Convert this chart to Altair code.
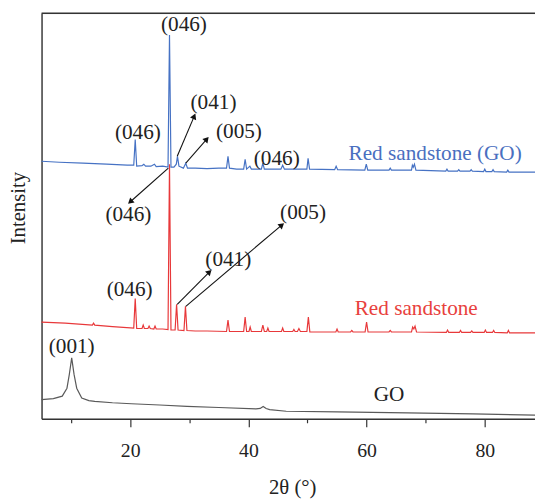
import math
import altair as alt
import pandas as pd

# ---------------- data ----------------
go_x = [5, 7, 8.5, 9.3, 9.7, 10.1, 10.5, 10.95, 11.8, 13, 14, 17, 20.2, 25, 29.6, 35, 41.3, 42.0, 42.5, 43.0, 43.6, 46.4, 55, 66.9, 78, 88.5]
go_y = [19.5, 20.5, 23, 31, 45, 61.7, 45, 31, 21, 18.5, 17.7, 16.3, 15.3, 14, 12.7, 11.5, 10, 10.5, 12.5, 10.5, 9.3, 7.7, 7, 6, 5, 3.7]

red_x = [5, 9, 13.6, 13.8, 14.0, 17, 20.6, 20.85, 21.1, 22.0, 22.2, 22.4, 23.0, 23.2, 23.4, 24.0, 24.2, 24.4, 25.5, 26.4, 26.65, 26.9,
         27.6, 27.85, 28.1, 29.1, 29.35, 29.6, 31, 33, 36.3, 36.55, 36.8, 39.2, 39.45, 39.7, 40.1, 40.3, 40.5, 42.2, 42.45, 42.7,
         43.1, 43.3, 43.5, 45.6, 45.8, 46.0, 47.5, 47.7, 47.9, 48.3, 48.55, 48.8, 49.9, 50.15, 50.4, 54.8, 55.0, 55.2, 57.3, 57.5,
         57.7, 59.75, 60.0, 60.25, 63.8, 64.0, 64.2, 67.6, 67.8, 68.0, 68.2, 68.45, 73.5, 73.7, 73.9, 75.7, 75.9, 76.1, 77.6, 77.8,
         78.0, 79.9, 80.1, 80.3, 81.3, 81.5, 81.7, 83.8, 84.0, 84.2, 88.5]
red_y = [98, 97, 95, 97, 95, 93.5, 92, 122, 91.5, 91.5, 95, 91.5, 91.5, 94, 91.5, 91, 94, 91, 91, 90.5, 258, 90,
         90, 116, 90, 89.5, 114, 89.5, 89, 89, 88.5, 100, 88.5, 88.5, 103, 88.5, 88.5, 93, 88.5, 88.5, 95, 88.5,
         88.5, 92, 88.5, 88.5, 92, 88.5, 88.5, 90.5, 88.5, 88.5, 91.5, 88.5, 88.5, 103, 88, 88, 91, 88, 88, 89.5,
         88, 88, 98, 88, 88, 89.5, 88, 88, 93, 91, 94, 88, 87.5, 90, 87.5, 87.5, 89.5, 87.5, 87.5, 89,
         87.5, 87.5, 90, 87.5, 87.5, 89.5, 87.5, 87, 89.5, 87, 87]

blue_x = [5, 8, 12, 16, 19.5, 20.6, 20.85, 21.1, 22, 22.3, 22.6, 23.5, 24.1, 24.4, 25.5, 26.4, 26.65, 26.9, 27.4, 27.8, 28.0,
          28.25, 29.0, 29.4, 29.7, 31, 33, 35, 36.3, 36.55, 36.8, 38, 39.2, 39.45, 39.7, 40.25, 40.5, 42.2, 42.45, 42.7, 45.5,
          45.8, 46.1, 49.9, 50.1, 50.35, 54.6, 54.85, 55.1, 59.7, 59.95, 60.2, 63.8, 64.0, 64.2, 67.6, 67.75, 67.9, 68.1, 68.35,
          73.4, 73.6, 73.8, 75.4, 75.6, 75.8, 77.5, 77.7, 77.9, 79.8, 80.0, 80.2, 81.2, 81.4, 81.6, 83.7, 83.9, 84.1, 88.5]
blue_y = [261, 260, 259, 258, 257, 257, 283, 256, 256.5, 258, 256, 256, 258, 255.5, 256, 255, 389, 255, 255, 258, 266,
          256, 254, 259, 254, 254, 253.5, 254, 254, 266, 254, 253, 253, 263, 253, 256, 253, 253, 259, 253, 253,
          257, 253, 253, 264, 253, 252.5, 256, 252.5, 252, 258, 252, 252, 254, 252, 252, 257, 255, 258, 252,
          251, 253, 251, 251, 252.5, 251, 251, 252.5, 251, 250.5, 253, 250.5, 250.5, 252.5, 250.5, 250, 252, 250, 250]

series_names = ["GO", "Red sandstone", "Red sandstone (GO)"]
series_colors = ["#5a5a5a", "#e8383a", "#4672c4"]

label_text = ["(046)", "(046)", "(041)", "(005)", "(046)", "Red sandstone (GO)",
              "(046)", "(046)", "(041)", "(005)", "Red sandstone",
              "(001)", "GO"]
label_x = [29.1, 21.3, 34.1, 38.4, 44.8, 71.6,
           19.7, 19.9, 36.6, 49.25, 68.4,
           10.1, 63.8]
label_y = [399, 290, 320, 291, 263, 268.6,
           206, 130, 161, 208, 111,
           72.7, 24]
label_color = ["#222222", "#222222", "#222222", "#222222", "#222222", "#4a6fc0",
               "#222222", "#222222", "#222222", "#222222", "#e8413d",
               "#222222", "#222222"]

arrow_x1 = [27.96, 29.41, 26.45, 27.96, 29.41]
arrow_y1 = [266, 259, 254, 116, 114]
arrow_x2 = [30.97, 33.18, 19.75, 33.65, 45.92]
arrow_y2 = [308.5, 285, 218.5, 150.3, 197.7]

x_tick_values = [10, 20, 30, 40, 50, 60, 70, 80, 90]

# ---------------- layout ----------------
X_MIN, X_MAX = 5, 88.5
Y_MIN, Y_MAX = 0, 411
W, H = 500, 411
px_per_x = W / (X_MAX - X_MIN)
px_per_y = H / (Y_MAX - Y_MIN)
FONT = "Liberation Serif"

rows = []
for name, xs, ys in [("GO", go_x, go_y), ("Red sandstone", red_x, red_y), ("Red sandstone (GO)", blue_x, blue_y)]:
    for i, (a, b) in enumerate(zip(xs, ys)):
        rows.append({"series": name, "x": a, "y": b, "order": i})
curves = pd.DataFrame(rows)

labels = pd.DataFrame({"text": label_text, "x": label_x, "y": label_y, "color": label_color})

arrows = pd.DataFrame({"x1": arrow_x1, "y1": arrow_y1, "x2": arrow_x2, "y2": arrow_y2})
arrows["angle"] = [
    (math.degrees(math.atan2((a2 - a1) * px_per_x, (b2 - b1) * px_per_y)) + 360) % 360
    for a1, b1, a2, b2 in zip(arrow_x1, arrow_y1, arrow_x2, arrow_y2)
]
heads_x, heads_y = [], []
for a1, b1, a2, b2 in zip(arrow_x1, arrow_y1, arrow_x2, arrow_y2):
    dxp = (a2 - a1) * px_per_x
    dyp = (b2 - b1) * px_per_y
    L = math.hypot(dxp, dyp)
    back = 3.0
    heads_x.append(a2 - dxp / L * back / px_per_x)
    heads_y.append(b2 - dyp / L * back / px_per_y)
arrows["hx"] = heads_x
arrows["hy"] = heads_y

xscale = alt.Scale(domain=[X_MIN, X_MAX], nice=False, zero=False)
yscale = alt.Scale(domain=[Y_MIN, Y_MAX], nice=False, zero=False)

x_axis = alt.Axis(
    values=x_tick_values,
    labelExpr="datum.value % 20 == 0 ? datum.label : ''",
    tickSize={"condition": {"test": "datum.value % 20 == 0", "value": 8}, "value": 4},
    grid=False,
    title="2θ (°)",
    titleX=254,
    titleY=76,
    titleBaseline="alphabetic",
    titleFont=FONT,
    titleFontSize=21,
    titleFontWeight="normal",
    titleColor="#222222",
    labelFont=FONT,
    labelFontSize=20,
    labelColor="#222222",
    labelPadding=14,
    domainColor="#333333",
    domainWidth=1.4,
    tickColor="#333333",
    tickWidth=1.2,
    labelFlush=False,
)
y_axis = alt.Axis(
    labels=False,
    ticks=False,
    grid=False,
    title="Intensity",
    titleX=-23,
    titleY=197,
    titleAngle=270,
    titleAlign="center",
    titleBaseline="middle",
    titleFont=FONT,
    titleFontSize=21,
    titleFontWeight="normal",
    titleColor="#222222",
    domainColor="#333333",
    domainWidth=1.4,
)

lines = alt.Chart(curves).mark_line(strokeWidth=1.2, interpolate="linear").encode(
    x=alt.X("x:Q", scale=xscale, axis=x_axis),
    y=alt.Y("y:Q", scale=yscale, axis=y_axis),
    color=alt.Color("series:N", scale=alt.Scale(domain=series_names, range=series_colors), legend=None),
    detail="series:N",
    order="order:Q",
)

texts = alt.Chart(labels).mark_text(font=FONT, fontSize=21.5, align="center", baseline="middle").encode(
    x=alt.X("x:Q", scale=xscale),
    y=alt.Y("y:Q", scale=yscale),
    text="text:N",
    color=alt.Color("color:N", scale=None),
)

arrow_lines = alt.Chart(arrows).mark_rule(color="#111111", strokeWidth=1.1).encode(
    x=alt.X("x1:Q", scale=xscale),
    y=alt.Y("y1:Q", scale=yscale),
    x2="hx:Q",
    y2="hy:Q",
)

arrow_heads = alt.Chart(arrows).mark_point(shape="triangle", filled=True, size=45, color="#111111", opacity=1).encode(
    x=alt.X("hx:Q", scale=xscale),
    y=alt.Y("hy:Q", scale=yscale),
    angle=alt.Angle("angle:Q", scale=None),
)

top_border = alt.Chart(pd.DataFrame({"k": [0]})).mark_rule(color="#333333", strokeWidth=1.4).encode(
    x=alt.value(0), x2=alt.value(W), y=alt.value(0)
)

chart = alt.layer(lines, arrow_lines, arrow_heads, texts, top_border).properties(
    width=W,
    height=H,
    autosize=alt.AutoSizeParams(type="none"),
    padding={"left": 34, "top": 2, "right": 0, "bottom": 80},
).configure_view(stroke=None).configure(background="white")

chart.save("out.html", embed_options={"renderer": "svg", "actions": False})
